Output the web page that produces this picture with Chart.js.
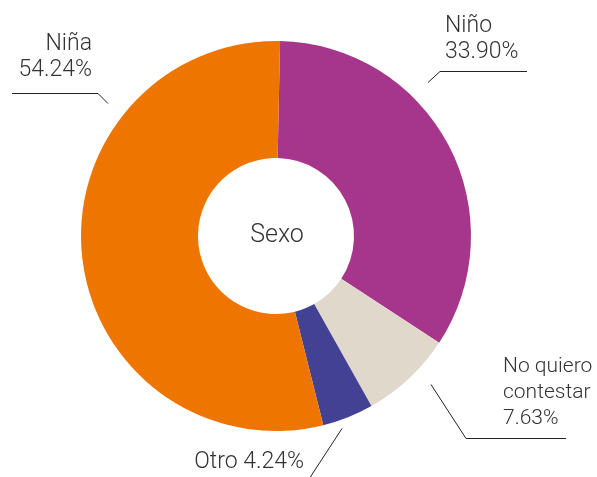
<!DOCTYPE html>
<html>
<head>
<meta charset="utf-8">
<script src="https://cdn.jsdelivr.net/npm/chart.js@4.4.1/dist/chart.umd.min.js"></script>
<style>
   html, body { margin: 0; padding: 0; background: #fff; }
   #wrap { width: 597px; height: 477px; }
</style>
</head>
<body>
<div id="wrap"><canvas id="sexoChart" width="597" height="477"></canvas></div>
<script>
// Data
const categories = ['Niño', 'No quiero contestar', 'Otro', 'Niña'];
const percentages = [33.90, 7.63, 4.24, 54.24];
const sliceColors = ['#a6368c', '#dfd8cb', '#424193', '#ee7600'];
const centerTitle = 'Sexo';

// Label callouts (text lines + leader line points), same order as categories
const callouts = [
   { lines: ['Niño', '33.90%'], x: 445, y: 32, size: 23, align: 'left', path: [[428, 82], [440, 71], [527, 71]] },
   { lines: ['No quiero', 'contestar', '7.63%'], x: 503, y: 372, size: 21, align: 'left', path: [[431, 384], [466, 438], [566, 438]] },
   { lines: ['Otro 4.24%'], x: 304, y: 468, size: 23, align: 'right', path: [[342, 428], [310, 477]] },
   { lines: ['Niña', '54.24%'], x: 92, y: 50, size: 23, align: 'right', path: [[108, 103], [98, 93], [12, 93]] }
];

const FONT_FAMILY = "Roboto, 'Open Sans', sans-serif";
const TEXT_COLOR = '#333333';

const calloutPlugin = {
   id: 'callouts',
   afterDraw: function (chart) {
      const ctx = chart.ctx;
      const arc = chart.getDatasetMeta(0).data[0];
      ctx.save();

      // Center title
      ctx.fillStyle = TEXT_COLOR;
      ctx.font = `300 25px ${FONT_FAMILY}`;
      ctx.textAlign = 'center';
      ctx.textBaseline = 'middle';
      ctx.fillText(centerTitle, arc.x + 1, arc.y);

      // Labels and leader lines
      ctx.textBaseline = 'alphabetic';
      ctx.strokeStyle = '#222222';
      ctx.lineWidth = 1;
      callouts.forEach(c => {
         ctx.font = `300 ${c.size}px ${FONT_FAMILY}`;
         ctx.textAlign = c.align;
         c.lines.forEach((line, j) => {
            ctx.fillText(line, c.x, c.y + j * 26);
         });
         ctx.beginPath();
         c.path.forEach((p, k) => {
            if (k === 0) ctx.moveTo(p[0], p[1] + 0.5);
            else ctx.lineTo(p[0], p[1] + 0.5);
         });
         ctx.stroke();
      });
      ctx.restore();
   }
};

new Chart(document.getElementById('sexoChart'), {
   type: 'doughnut',
   data: {
      labels: categories,
      datasets: [{
         data: percentages,
         backgroundColor: sliceColors,
         borderWidth: 0,
         hoverOffset: 0
      }]
   },
   options: {
      responsive: false,
      animation: false,
      cutout: '40%',
      rotation: 1.2,
      layout: { padding: { left: 81, right: 126, top: 41, bottom: 46 } },
      plugins: {
         legend: { display: false },
         tooltip: { enabled: false }
      }
   },
   plugins: [calloutPlugin]
});
</script>
</body>
</html>
